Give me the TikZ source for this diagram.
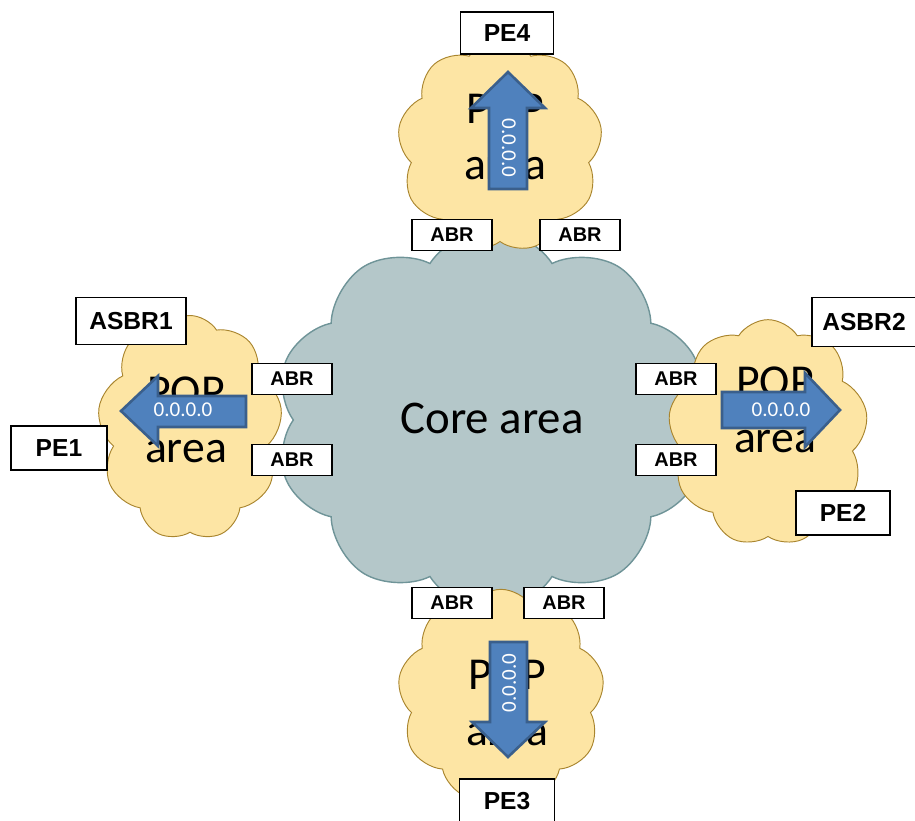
\documentclass[tikz,border=0pt]{standalone}
\usepackage{fontspec}
\setmainfont{Carlito}
\newfontfamily\lblfont{Liberation Sans}
\usetikzlibrary{shapes.symbols}
\definecolor{coregray}{HTML}{B4C7C9}
\definecolor{coreedge}{HTML}{6F9498}
\definecolor{popyellow}{HTML}{FDE5A4}
\definecolor{popedge}{HTML}{A9852E}
\definecolor{arrowblue}{HTML}{4F81BD}
\definecolor{arrowedge}{HTML}{3A5F8C}
\tikzstyle{core}=[cloud, cloud puffs=10, cloud puff arc=115, cloud ignores aspect, fill=coregray, draw=coreedge, line width=1.2pt, inner sep=0pt]
\tikzstyle{pop}=[cloud, cloud puffs=9, cloud puff arc=115, cloud ignores aspect, fill=popyellow, draw=popedge, line width=0.8pt, inner sep=0pt]
\tikzstyle{poptext}=[align=center, font=\fontsize{39}{48}\selectfont]
\tikzstyle{box}=[rectangle, fill=white, draw=black, line width=1.6pt, inner sep=0pt, anchor=center, minimum width=2.4cm, minimum height=0.93cm, font=\lblfont\bfseries\fontsize{17}{20}\selectfont]
\tikzstyle{bigbox}=[box, font=\lblfont\bfseries\fontsize{21}{25}\selectfont]
\tikzstyle{route}=[fill=arrowblue, draw=arrowedge, line width=2.2pt, line join=miter]
\tikzstyle{routetext}=[text=white, font=\fontsize{18}{22}\selectfont]

\begin{document}
\begin{tikzpicture}[x=0.03cm, y=-0.03cm]
	\useasboundingbox (0,0) rectangle (915,821);

	% clouds
	\node[core, minimum width=12.95cm, minimum height=11.4cm] (core) at (491,420) {};
	\node[pop, minimum width=6.15cm, minimum height=6.4cm] (popN) at (500,146) {};
	\node[pop, minimum width=5.55cm, minimum height=6.75cm] (popW) at (190,428) {};
	\node[pop, minimum width=6.0cm, minimum height=6.8cm] (popE) at (768,433) {};
	\node[pop, minimum width=6.2cm, minimum height=6.4cm] (popS) at (501,696) {};

	\node[font=\fontsize{40}{48}\selectfont] (coretext) at (492,418) {Core area};
	\node[poptext] (popNtext) at (505,137) {POP\\area};
	\node[poptext] (popWtext) at (186,420) {POP\\area};
	\node[poptext] (popEtext) at (775,410) {POP\\area};
	\node[poptext] (popStext) at (507,703) {POP\\area};

	% default routes
	\draw[route] (489,189) -- (489,108) -- (471,108) -- (508,72) -- (545,108) -- (527,108) -- (527,189) -- cycle;
	\draw[route] (246,396) -- (158,396) -- (158,376) -- (121,411) -- (158,446) -- (158,427) -- (246,427) -- cycle;
	\draw[route] (722,392) -- (805,392) -- (805,373) -- (840,410) -- (805,447) -- (805,428) -- (722,428) -- cycle;
	\draw[route] (490,642) -- (490,722) -- (472,722) -- (508,757) -- (545,722) -- (527,722) -- (527,642) -- cycle;
	\node[routetext, rotate=-90] (rtN) at (509,148) {0.0.0.0};
	\node[routetext] (rtW) at (183,410) {0.0.0.0};
	\node[routetext] (rtE) at (781,410) {0.0.0.0};
	\node[routetext, rotate=90] (rtS) at (509,683) {0.0.0.0};

	% routers
	\node[box] (abrN1) at (452,235) {ABR};
	\node[box] (abrN2) at (580,235) {ABR};
	\node[box] (abrW1) at (292,379) {ABR};
	\node[box] (abrW2) at (292,460) {ABR};
	\node[box] (abrE1) at (676,379) {ABR};
	\node[box] (abrE2) at (676,460) {ABR};
	\node[box] (abrS1) at (452,603) {ABR};
	\node[box] (abrS2) at (564,603) {ABR};
	\node[bigbox, minimum width=2.79cm, minimum height=1.26cm] (pe4) at (507,33) {PE4};
	\node[bigbox, minimum width=3.3cm, minimum height=1.41cm] (asbr1) at (131,321) {ASBR1};
	\node[bigbox, minimum width=2.88cm, minimum height=1.32cm] (pe1) at (59,448) {PE1};
	\node[bigbox, minimum width=3.12cm, minimum height=1.47cm] (asbr2) at (864,322) {ASBR2};
	\node[bigbox, minimum width=2.82cm, minimum height=1.32cm] (pe2) at (843,513) {PE2};
	\node[bigbox, minimum width=2.85cm, minimum height=1.32cm] (pe3) at (507,801) {PE3};

\end{tikzpicture}
\end{document}
